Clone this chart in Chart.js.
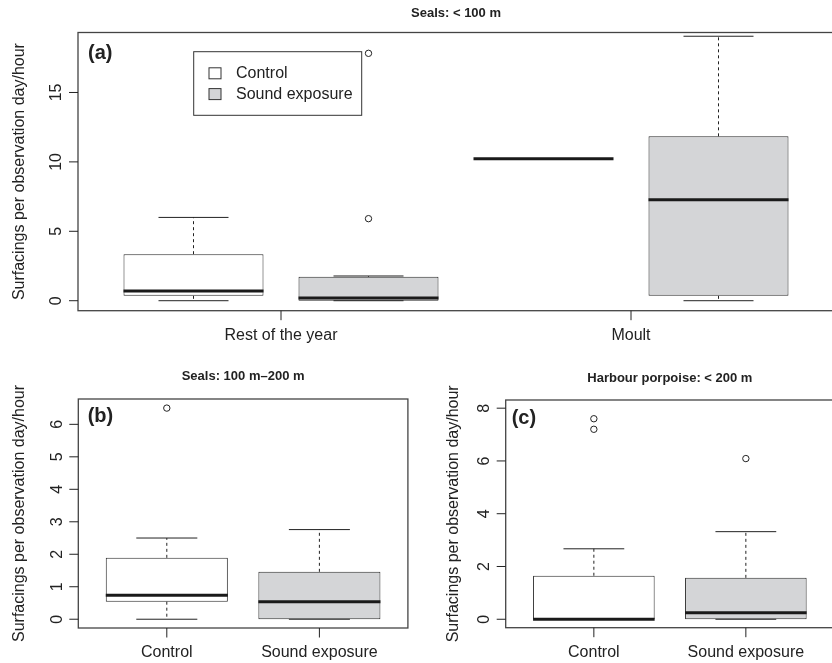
<html>
<head>
<style>
  body { margin: 0; background: #fff; }
  #wrap { position: relative; width: 832px; height: 663px; overflow: hidden; }
  canvas { position: absolute; }
</style>
</head>
<body>
<div id="wrap">
  <canvas id="pa" width="850" height="350" style="left:0;top:0"></canvas>
  <canvas id="pb" width="416" height="313" style="left:0;top:350px"></canvas>
  <canvas id="pc" width="434" height="313" style="left:416px;top:350px"></canvas>
</div>
<script src="https://cdn.jsdelivr.net/npm/chart.js"></script>
<script>
// ---- data ----
const seriesNames = ['Control', 'Sound exposure'];

// (a) Seals: < 100 m   boxes: RotY control, RotY sound, Moult control, Moult sound
const aGroups = ['Rest of the year', 'Moult'];
const aKind = [0, 1, 0, 1];
const aLow  = [0,    0,    10.23, 0];
const aQ1   = [0.35, 0,    10.23, 0.35];
const aMed  = [0.7,  0.2,  10.23, 7.28];
const aQ3   = [3.35, 1.72, 10.23, 11.84];
const aHigh = [6.0,  1.78, 10.23, 19.05];
const aOut  = [[], [17.82, 5.91], [], []];
const aTicks = [0, 5, 10, 15];

// (b) Seals: 100 m-200 m
const bKind = [0, 1];
const bLow  = [0, 0];
const bQ1   = [0.54, 0];
const bMed  = [0.74, 0.54];
const bQ3   = [1.89, 1.46];
const bHigh = [2.5, 2.76];
const bOut  = [[6.5], []];
const bTicks = [0, 1, 2, 3, 4, 5, 6];

// (c) Harbour porpoise: < 200 m
const cKind = [0, 1];
const cLow  = [0, 0];
const cQ1   = [0, 0];
const cMed  = [0, 0.25];
const cQ3   = [1.65, 1.57];
const cHigh = [2.67, 3.32];
const cOut  = [[7.2, 7.6], [6.09]];
const cTicks = [0, 2, 4, 6, 8];

const FONT = "'Liberation Sans', Arial, Helvetica, sans-serif";
const INK = '#222';
const FILLS = ['#ffffff', '#d4d5d7'];
const YTITLE = 'Surfacings per observation day/hour';

// R style box plot pieces drawn on top of chart.js floating bars
const rbox = {
  id: 'rbox',
  beforeDatasetsDraw(chart, args, o) {
    const ctx = chart.ctx, x = chart.scales.x, y = chart.scales.y;
    ctx.save();
    ctx.strokeStyle = INK;
    ctx.lineWidth = 1;
    o.at.forEach((pos, i) => {
      const px = x.getPixelForValue(pos);
      ctx.setLineDash([3, 3]);
      ctx.beginPath();
      if (o.high[i] > o.q3[i]) { ctx.moveTo(px, y.getPixelForValue(o.q3[i])); ctx.lineTo(px, y.getPixelForValue(o.high[i])); }
      if (o.low[i] < o.q1[i]) { ctx.moveTo(px, y.getPixelForValue(o.q1[i])); ctx.lineTo(px, y.getPixelForValue(o.low[i])); }
      ctx.stroke();
      ctx.setLineDash([]);
      ctx.beginPath();
      [o.high[i], o.low[i]].forEach(v => {
        const py = y.getPixelForValue(v);
        ctx.moveTo(x.getPixelForValue(pos - 0.2), py);
        ctx.lineTo(x.getPixelForValue(pos + 0.2), py);
      });
      ctx.stroke();
    });
    ctx.restore();
  },
  afterDatasetsDraw(chart, args, o) {
    const ctx = chart.ctx, x = chart.scales.x, y = chart.scales.y;
    const a = chart.chartArea;
    ctx.save();
    // medians
    ctx.strokeStyle = '#1a1a1a';
    ctx.lineWidth = 3;
    o.at.forEach((pos, i) => {
      const py = y.getPixelForValue(o.med[i]);
      ctx.beginPath();
      ctx.moveTo(x.getPixelForValue(pos - 0.4), py);
      ctx.lineTo(x.getPixelForValue(pos + 0.4), py);
      ctx.stroke();
    });
    // frame
    ctx.strokeStyle = '#444';
    ctx.lineWidth = 1.3;
    ctx.strokeRect(a.left, a.top, a.right - a.left, a.bottom - a.top);
    // y axis
    ctx.lineWidth = 1;
    ctx.strokeStyle = INK;
    ctx.fillStyle = INK;
    ctx.font = '16px ' + FONT;
    ctx.textAlign = 'center';
    ctx.textBaseline = 'middle';
    o.yTicks.forEach(v => {
      const py = y.getPixelForValue(v);
      ctx.beginPath();
      ctx.moveTo(a.left, py);
      ctx.lineTo(a.left - 9, py);
      ctx.stroke();
      ctx.save();
      ctx.translate(a.left - 21, py);
      ctx.rotate(-Math.PI / 2);
      ctx.fillText(String(v), 0, 0);
      ctx.restore();
    });
    // x axis
    o.xLabels.forEach((lab, i) => {
      const px = x.getPixelForValue(o.xAt[i]);
      ctx.beginPath();
      ctx.moveTo(px, a.bottom);
      ctx.lineTo(px, a.bottom + 9.5);
      ctx.stroke();
      ctx.fillText(lab, px, a.bottom + 25);
    });
    // y title
    ctx.save();
    ctx.translate(a.left - o.yTitleGap, (a.top + a.bottom) / 2);
    ctx.rotate(-Math.PI / 2);
    ctx.fillText(YTITLE, 0, 0);
    ctx.restore();
    // title
    ctx.font = 'bold 13px ' + FONT;
    ctx.fillText(o.title, (a.left + a.right) / 2, a.top - o.titleGap);
    // panel letter
    ctx.font = 'bold 20px ' + FONT;
    ctx.textAlign = 'left';
    ctx.fillText(o.letter, a.left + o.letterAt[0], a.top + o.letterAt[1]);
    // legend
    if (o.legendAt) {
      const lx = a.left + o.legendAt[0], ly = a.top + o.legendAt[1];
      ctx.strokeStyle = '#333';
      ctx.strokeRect(lx, ly, 168, 63.6);
      ctx.font = '16px ' + FONT;
      seriesNames.forEach((name, k) => {
        const cy = ly + 21.6 + k * 20.8;
        ctx.fillStyle = FILLS[k];
        ctx.fillRect(lx + 15.3, cy - 5.5, 12, 11);
        ctx.strokeRect(lx + 15.3, cy - 5.5, 12, 11);
        ctx.fillStyle = INK;
        ctx.fillText(name, lx + 42.3, cy);
      });
    }
    ctx.restore();
  }
};

function panel(id, s) {
  const at = s.low.map((_, i) => i + 1);
  const boxes = at.map((pos, i) => ({ x: pos, y: [s.q1[i], s.q3[i]] }));
  const outs = [];
  s.out.forEach((list, i) => list.forEach(v => outs.push({ x: at[i], y: v })));
  return new Chart(document.getElementById(id), {
    type: 'bar',
    data: {
      datasets: [
        {
          data: boxes,
          backgroundColor: s.kind.map(k => FILLS[k]),
          borderColor: '#2b2b2b',
          borderWidth: 1,
          borderSkipped: false,
          categoryPercentage: 0.8,
          barPercentage: 1
        },
        {
          type: 'scatter',
          data: outs,
          pointStyle: 'circle',
          pointRadius: 3.2,
          borderColor: INK,
          borderWidth: 1,
          backgroundColor: 'rgba(0,0,0,0)'
        }
      ]
    },
    options: {
      responsive: false,
      animation: false,
      events: [],
      layout: { padding: s.pad },
      scales: {
        x: {
          type: 'linear', display: false, offset: false, min: s.xMin, max: s.xMax,
          afterBuildTicks: sc => { sc.ticks = at.map(v => ({ value: v })); }
        },
        y: { display: false, min: s.yMin, max: s.yMax }
      },
      plugins: {
        legend: { display: false },
        tooltip: { enabled: false },
        rbox: {
          at: at, low: s.low, q1: s.q1, med: s.med, q3: s.q3, high: s.high,
          yTicks: s.ticks, xLabels: s.xLabels, xAt: s.xAt,
          title: s.title, titleGap: s.titleGap, letter: s.letter, letterAt: s.letterAt,
          yTitleGap: s.yTitleGap, legendAt: s.legendAt
        }
      }
    },
    plugins: [rbox]
  });
}

panel('pa', {
  kind: aKind, low: aLow, q1: aQ1, med: aMed, q3: aQ3, high: aHigh, out: aOut, ticks: aTicks,
  xLabels: aGroups, xAt: aGroups.map((_, g) => 2 * g + 1.5),
  xMin: 0.34, xMax: 4.66, yMin: -0.72, yMax: 19.32,
  pad: { left: 78, top: 32.5, right: 16, bottom: 39.3 },
  title: 'Seals: < 100 m', titleGap: 19.5, letter: '(a)', letterAt: [10, 21],
  yTitleGap: 58.5, legendAt: [115.7, 19.2]
});

panel('pb', {
  kind: bKind, low: bLow, q1: bQ1, med: bMed, q3: bQ3, high: bHigh, out: bOut, ticks: bTicks,
  xLabels: seriesNames, xAt: [1, 2],
  xMin: 0.42, xMax: 2.58, yMin: -0.27, yMax: 6.78,
  pad: { left: 78.3, top: 49, right: 8.1, bottom: 35 },
  title: 'Seals: 100 m\u2013200 m', titleGap: 22.3, letter: '(b)', letterAt: [9.4, 17.7],
  yTitleGap: 59
});

panel('pc', {
  kind: cKind, low: cLow, q1: cQ1, med: cMed, q3: cQ3, high: cHigh, out: cOut, ticks: cTicks,
  xLabels: seriesNames, xAt: [1, 2],
  xMin: 0.42, xMax: 2.58, yMin: -0.32, yMax: 8.31,
  pad: { left: 89.7, top: 50, right: 16, bottom: 35.3 },
  title: 'Harbour porpoise: < 200 m', titleGap: 21.7, letter: '(c)', letterAt: [6, 18.3],
  yTitleGap: 52.4
});
</script>
</body>
</html>
